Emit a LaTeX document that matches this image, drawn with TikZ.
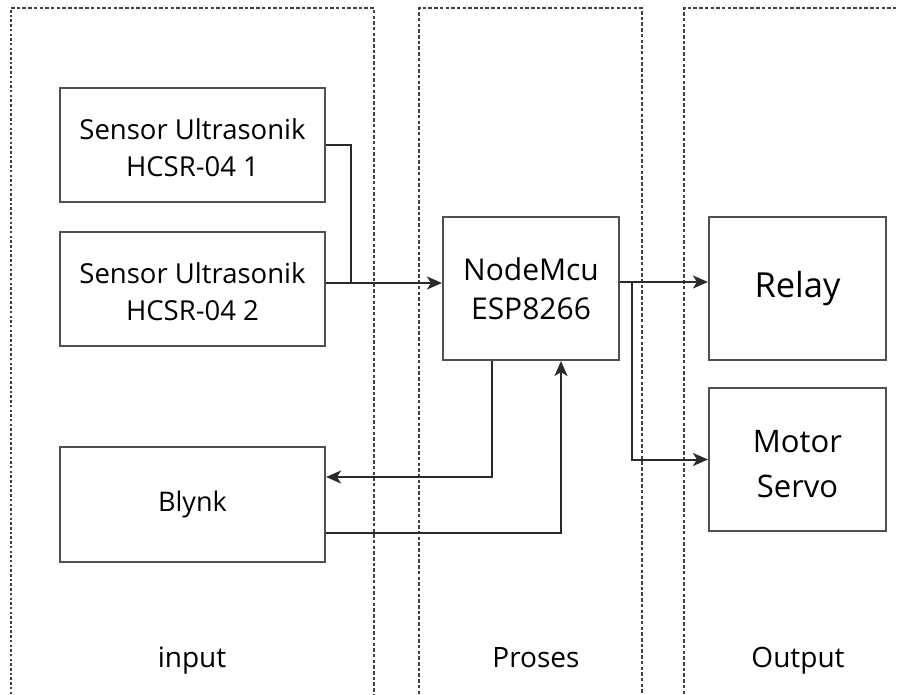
\documentclass[tikz,border=0pt]{standalone}
\usepackage{fontspec}
\setmainfont{Open Sans}
\usetikzlibrary{arrows.meta,calc}
\definecolor{boxgray}{HTML}{505050}
\definecolor{linegray}{HTML}{2A2A2A}
\definecolor{dotgray}{HTML}{404040}
\tikzset{
  blk/.style={draw=boxgray, line width=2.1pt, rectangle, inner sep=0pt, align=center, text=black},
  conn/.style={draw=linegray, line width=2pt},
  arr/.style={conn, -{Stealth[length=15pt,width=13pt,inset=4pt]}},
  panel/.style={draw=dotgray, line width=1.1pt, dash pattern=on 3.5pt off 2.2pt},
  thickpanel/.style={draw=dotgray, line width=2.2pt, dash pattern=on 2.5pt off 2.2pt},
  lbl/.style={font=\fontsize{28}{32}\selectfont, text=black, anchor=base},
  txt/.style={align=center, text=black, inner sep=0pt}
}
\begin{document}
\begin{tikzpicture}[x=1pt,y=-1pt]
\useasboundingbox (0,0) rectangle (897,694);
% panels
\draw[panel] (11,8) -- (374,8) -- (374,694);
\draw[thickpanel] (11,694) -- (11,8);
\draw[panel] (419,694) -- (419,8) -- (642,8) -- (642,694);
\draw[panel] (684,694) -- (684,8) -- (897,8);
% blocks
\node[blk, minimum width=265pt, minimum height=114pt] (s1) at (192.5,145) {};
\node[txt, font=\fontsize{27.5}{37}\selectfont] (s1txt) at ($(s1.center)+(0,3)$) {Sensor Ultrasonik\\HCSR-04 1};
\node[blk, minimum width=265pt, minimum height=114pt] (s2) at (192.5,289) {};
\node[txt, font=\fontsize{27.5}{37}\selectfont] (s2txt) at ($(s2.center)+(0,3)$) {Sensor Ultrasonik\\HCSR-04 2};
\node[blk, minimum width=265pt, minimum height=115pt, font=\fontsize{27}{30}\selectfont] (blynk) at (192.5,504.5) {Blynk};
\node[blk, minimum width=176pt, minimum height=143pt, font=\fontsize{30}{39}\selectfont] (mcu) at (531,288.5) {NodeMcu\\ESP8266};
\node[blk, minimum width=177pt, minimum height=143pt, font=\fontsize{34.5}{38}\selectfont] (relay) at (797.5,288.5) {Relay};
\node[blk, minimum width=177pt, minimum height=143pt] (servo) at (797.5,459.5) {};
\node[txt, font=\fontsize{31}{45}\selectfont] (servotxt) at ($(servo.center)+(0,5)$) {Motor\\Servo};
% labels
\node[lbl] (lin) at (192,667) {input};
\node[lbl] (lpr) at (536,667) {Proses};
\node[lbl] (lout) at (798,667) {Output};
% connectors
\coordinate (jn) at (351,283);
\draw[conn] (s1.east) -| (jn);
\draw[arr] (s2.east |- jn) -- (mcu.west |- jn);
\coordinate (br) at (632,282);
\draw[arr] (mcu.east |- br) -- (relay.west |- br);
\draw[arr] (br) |- (servo.west);
\coordinate (d1) at (492,477);
\draw[arr] (mcu.south -| d1) |- (blynk.east |- d1);
\coordinate (d2) at (561,533);
\draw[arr] (blynk.east |- d2) -| (mcu.south -| d2);
\end{tikzpicture}
\end{document}
